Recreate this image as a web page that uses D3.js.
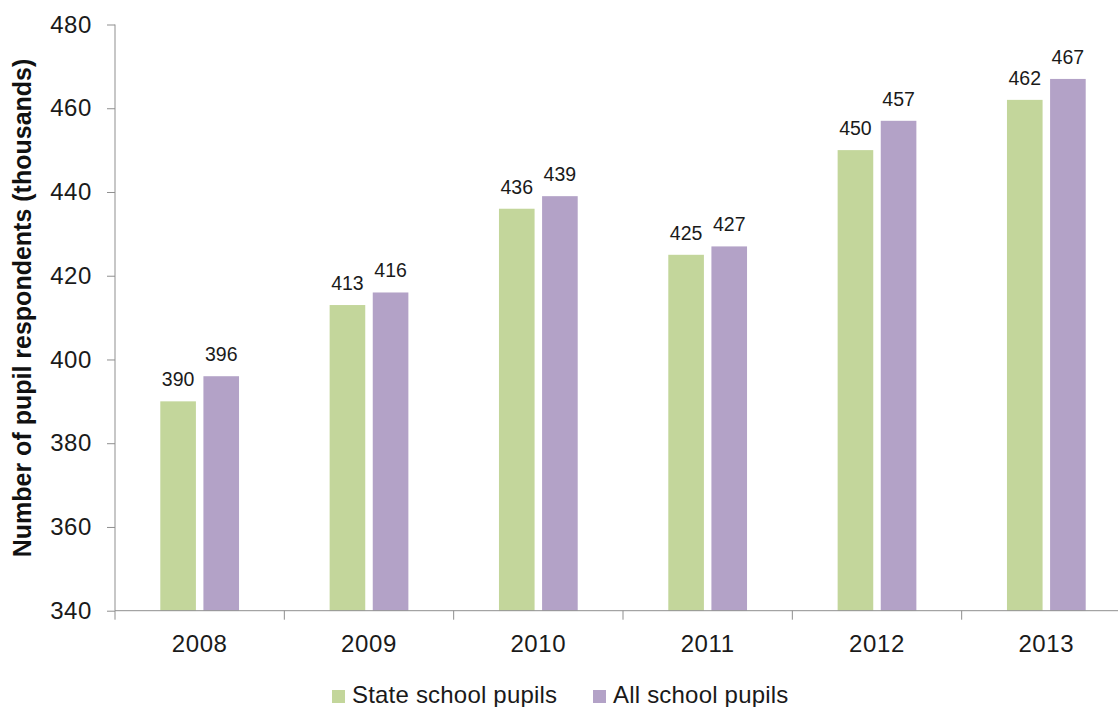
<!DOCTYPE html>
<html>
<head>
<meta charset="utf-8">
<script src="https://cdn.jsdelivr.net/npm/d3@7"></script>
<style>
  html, body { margin: 0; padding: 0; background: #fff; }
  svg { display: block; font-family: "Liberation Sans", Arial, Helvetica, sans-serif; }
</style>
</head>
<body>
<svg id="chart" width="1118" height="707"></svg>
<script>
// Pupil respondents by survey year (thousands)
const years = ["2008", "2009", "2010", "2011", "2012", "2013"];
const seriesNames = ["State school pupils", "All school pupils"];
const stateValues = [390, 413, 436, 425, 450, 462];
const allValues = [396, 416, 439, 427, 457, 467];
const yTicks = [340, 360, 380, 400, 420, 440, 460, 480];
const seriesColors = ["#c3d69b", "#b3a2c7"];

const svg = d3.select("#chart");
const axisColor = "#8f8f8f";

const plot = { left: 115, right: 1131, top: 24.5, bottom: 610.7 };

const y = d3.scaleLinear().domain([340, 480]).range([plot.bottom, plot.top]);
const x = d3.scaleBand().domain(years).range([plot.left, plot.right])
  .paddingInner(0.535).paddingOuter(0.2675);
const xs = d3.scaleBand().domain(seriesNames).range([0, x.bandwidth()]).paddingInner(0.174);

const rows = years.map((yr, i) => ({ year: yr, values: [stateValues[i], allValues[i]] }));

// Bars
const groups = svg.append("g").selectAll("g").data(rows).join("g")
  .attr("transform", d => `translate(${x(d.year)},0)`);

groups.selectAll("rect").data(d => d.values.map((v, k) => ({ v, k })))
  .join("rect")
  .attr("x", d => xs(seriesNames[d.k]))
  .attr("y", d => y(d.v))
  .attr("width", xs.bandwidth())
  .attr("height", d => y(340) - y(d.v))
  .attr("fill", d => seriesColors[d.k]);

// Value labels
groups.selectAll("text.val").data(d => d.values.map((v, k) => ({ v, k })))
  .join("text")
  .attr("class", "val")
  .attr("x", d => xs(seriesNames[d.k]) + xs.bandwidth() / 2)
  .attr("y", d => y(d.v) - 15)
  .attr("text-anchor", "middle")
  .attr("font-size", 19.5)
  .attr("fill", "#1a1a1a")
  .text(d => d.v);

// Y axis
const yAxis = svg.append("g")
  .attr("transform", `translate(${plot.left},0)`)
  .call(d3.axisLeft(y).tickValues(yTicks).tickSize(8).tickPadding(15).tickFormat(d3.format("d")));
yAxis.select(".domain").attr("stroke", axisColor).attr("d", `M0,${plot.top}V${plot.bottom}`);
yAxis.selectAll(".tick line").attr("stroke", axisColor);
yAxis.selectAll(".tick text")
  .attr("font-size", 24)
  .attr("letter-spacing", 0.6)
  .attr("fill", "#1a1a1a")
  .attr("font-family", "Liberation Sans, Arial, sans-serif");

// X axis: line with boundary ticks between categories
const xAxis = svg.append("g");
xAxis.append("line")
  .attr("x1", plot.left).attr("x2", 1118)
  .attr("y1", plot.bottom).attr("y2", plot.bottom)
  .attr("stroke", axisColor);
const step = x.step();
const boundaries = d3.range(years.length + 1).map(i => plot.left + i * step);
xAxis.selectAll("line.tk").data(boundaries).join("line")
  .attr("class", "tk")
  .attr("x1", d => d).attr("x2", d => d)
  .attr("y1", plot.bottom).attr("y2", plot.bottom + 9)
  .attr("stroke", axisColor);
xAxis.selectAll("text").data(years).join("text")
  .attr("x", d => x(d) + x.bandwidth() / 2)
  .attr("y", 652)
  .attr("text-anchor", "middle")
  .attr("font-size", 24)
  .attr("letter-spacing", 0.6)
  .attr("fill", "#1a1a1a")
  .text(d => d);

// Y axis title
svg.append("text")
  .attr("transform", `translate(31,308) rotate(-90)`)
  .attr("text-anchor", "middle")
  .attr("font-size", 25)
  .attr("font-weight", "bold")
  .attr("fill", "#111")
  .text("Number of pupil respondents (thousands)");

// Legend
const legendX = [332, 593];
const legend = svg.append("g").selectAll("g").data(seriesNames).join("g")
  .attr("transform", (d, i) => `translate(${legendX[i]},690)`);
legend.append("rect")
  .attr("width", 13).attr("height", 13)
  .attr("fill", (d, i) => seriesColors[i]);
legend.append("text")
  .attr("x", 20).attr("y", 13)
  .attr("font-size", 24)
  .attr("letter-spacing", 0.2)
  .attr("fill", "#1a1a1a")
  .text(d => d);
</script>
</body>
</html>
